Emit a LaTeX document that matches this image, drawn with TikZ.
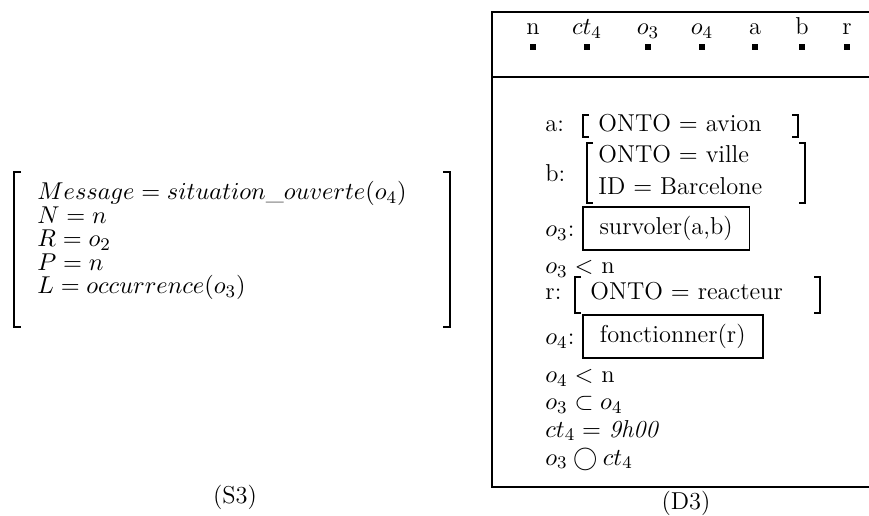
\documentclass[tikz,border=0pt]{standalone}
\usepackage{amsmath,amssymb}
\usetikzlibrary{positioning}
\tikzset{
  txt/.style={anchor=base west,inner sep=0pt,font=\fontsize{11}{13}\selectfont},
  hdr/.style={anchor=base,inner sep=0pt,font=\fontsize{11}{13}\selectfont},
  slot/.style={fill=black,minimum size=2.9pt,inner sep=0pt},
  fbox/.style={draw,line width=0.7pt,anchor=west,inner xsep=4pt,minimum height=19.5pt,font=\fontsize{11}{13}\selectfont},
  brk/.style={line width=0.5pt},
  frame/.style={line width=0.8pt}
}

\begin{document}
\begin{tikzpicture}[x=0.45pt,y=-0.45pt]
  \useasboundingbox (0,0) rectangle (869,516);

  % (S3)
  \draw[brk] (21,172) -- (14,172) -- (14,327) -- (21,327);
  \draw[brk] (443,172) -- (450,172) -- (450,327) -- (443,327);
  \node[txt] (msg) at (37,200) {$Message = situation\_ouverte(o_4)$};
  \node[txt] (nn) at (37,223.5) {$N = n$};
  \node[txt] (rr) at (37,247) {$R = o_2$};
  \node[txt] (pp) at (37,270.5) {$P = n$};
  \node[txt] (ll) at (37,294) {$L = occurrence(o_3)$};
  \node[hdr] (s3) at (235,503) {(S3)};

  % (D3)
  \draw[frame] (869,12) -- (492,12) -- (492,487) -- (869,487);
  \draw[frame] (492,77) -- (869,77);

  \node[hdr] (hn) at (533,35) {n};
  \node[hdr] (hct) at (587,35) {$ct_4$};
  \node[hdr] (ho3) at (648,35) {$o_3$};
  \node[hdr] (ho4) at (702,35) {$o_4$};
  \node[hdr] (ha) at (755,35) {a};
  \node[hdr] (hb) at (802,35) {b};
  \node[hdr] (hr) at (847,35) {r};
  \node[slot] (sn) at (533,47) {};
  \node[slot] (sct) at (587,47) {};
  \node[slot] (so3) at (648,47) {};
  \node[slot] (so4) at (702,47) {};
  \node[slot] (sa) at (755,47) {};
  \node[slot] (sb) at (802,47) {};
  \node[slot] (sr) at (847,47) {};

  \node[txt] (alab) at (545,132) {a:};
  \draw[brk] (589,115) -- (583,115) -- (583,137) -- (589,137);
  \node[txt] (aval) at (598,132) {ONTO $=$ avion};
  \draw[brk] (792,115) -- (798,115) -- (798,137) -- (792,137);

  \node[txt] (blab) at (545,182) {b:};
  \draw[brk] (593,143) -- (587,143) -- (587,203) -- (593,203);
  \node[txt] (bval) at (598,163) {ONTO $=$ ville};
  \node[txt] (bid) at (598,195) {ID $=$ Barcelone};
  \draw[brk] (799,143) -- (805,143) -- (805,203) -- (799,203);

  \node[txt] (o3lab) at (545,237) {$o_3$:};
  \node[fbox,minimum width=75pt] (surv) at (582,228.5) {survoler(a,b)};
  \node[txt] (o3n) at (545,274) {$o_3 <$ n};

  \node[txt] (rlab) at (545,300) {r:};
  \draw[brk] (581,277) -- (575,277) -- (575,313) -- (581,313);
  \node[txt] (rval) at (590,300) {ONTO $=$ reacteur};
  \draw[brk] (814,277) -- (820,277) -- (820,313) -- (814,313);

  \node[txt] (o4lab) at (545,345) {$o_4$:};
  \node[fbox,minimum width=81pt] (fonc) at (582,336.5) {fonctionner(r)};
  \node[txt] (o4n) at (545,383) {$o_4 <$ n};
  \node[txt] (incl) at (545,410) {$o_3 \subset o_4$};
  \node[txt] (time) at (545,437) {$ct_4 =$ \textit{9h00}};
  \node[txt] (ovl) at (545,465) {$o_3 \bigcirc ct_4$};
  \node[hdr] (d3) at (686,510) {(D3)};
\end{tikzpicture}
\end{document}
